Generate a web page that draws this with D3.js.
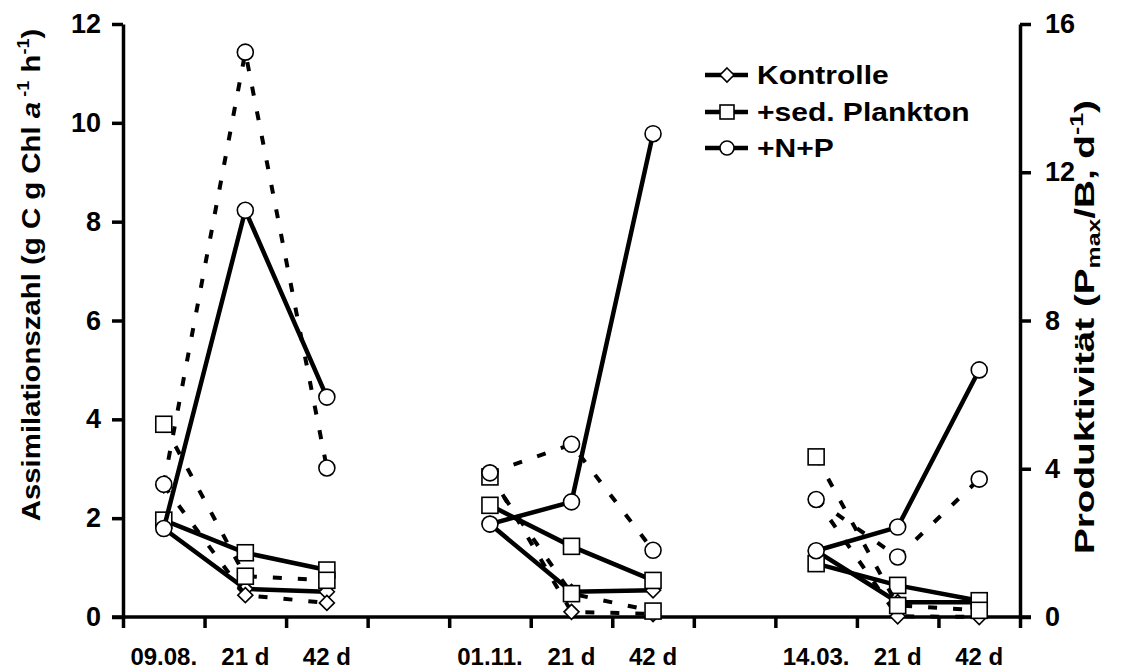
<!DOCTYPE html>
<html><head><meta charset="utf-8">
<script src="https://cdn.jsdelivr.net/npm/d3@7"></script>
<style>
body{margin:0;background:#fff}
text{font-family:Arial,"Liberation Sans",sans-serif;font-weight:bold;fill:#000}
</style>
</head><body><svg id="c" width="1123" height="671"></svg>
<script>
// ---- data ----
const categories = ["09.08.","21 d","42 d","","01.11.","21 d","42 d","","14.03.","21 d","42 d"];
const seriesNames = ["Kontrolle","+sed. Plankton","+N+P"];
const leftTicks = [0,2,4,6,8,10,12];
const rightTicks = [0,4,8,12,16];
// Assimilationszahl (left axis, solid lines)
const assimKontrolle = [1.79,0.57,0.51,null,1.88,0.51,0.54,null,1.34,0.30,0.30];
const assimSed       = [1.96,1.30,0.95,null,2.26,1.43,0.74,null,1.08,0.64,0.33];
const assimNP        = [1.79,8.23,4.45,null,1.88,2.33,9.78,null,1.34,1.82,5.00];
// Produktivität (right axis, dashed lines)
const prodKontrolle = [3.55,0.59,0.38,null,3.89,0.14,0.08,null,3.17,0.02,0.00];
const prodSed       = [5.20,1.10,0.99,null,3.78,0.63,0.16,null,4.32,0.31,0.18];
const prodNP        = [3.58,15.24,4.02,null,3.89,4.66,1.80,null,3.17,1.62,3.72];

const svg = d3.select("#c");
svg.append("rect").attr("width",1123).attr("height",671).attr("fill","#fff");

const x = d3.scaleLinear().domain([0, categories.length]).range([123, 1020]);
const yL = d3.scaleLinear().domain([0, 12]).range([617, 24]);
const yR = d3.scaleLinear().domain([0, 16]).range([617, 24]);

// ---- axes ----
function styleAxis(g, fs){
  g.select(".domain").attr("stroke","#000").attr("stroke-width",3.5);
  g.selectAll(".tick line").attr("stroke","#000").attr("stroke-width",3.5);
  g.selectAll("text").style("font-size",fs+"px").style("font-family","Arial,'Liberation Sans',sans-serif").style("font-weight","bold").attr("fill","#000");
}
const gL = svg.append("g").attr("transform","translate(123,0)")
  .call(d3.axisLeft(yL).tickValues(leftTicks).tickSize(11).tickSizeOuter(0).tickPadding(11));
styleAxis(gL, 27);
const gR = svg.append("g").attr("transform","translate(1020,0)")
  .call(d3.axisRight(yR).tickValues(rightTicks).tickSize(11).tickSizeOuter(0).tickPadding(14));
styleAxis(gR, 27);
const gB = svg.append("g").attr("transform","translate(0,617)")
  .call(d3.axisBottom(x).tickValues(d3.range(categories.length+1)).tickFormat("").tickSize(11).tickSizeOuter(0));
styleAxis(gB, 24);
gB.select(".domain").attr("d", `M${x(0)-11},0H${x(categories.length)+11}`);

// category labels
svg.append("g").selectAll("text").data(categories.map((c,i)=>({c,i})).filter(d=>d.c!==""))
  .join("text").attr("x",d=>x(d.i+0.5)).attr("y",665).attr("text-anchor","middle")
  .style("font-size","24px").text(d=>d.c);

// ---- axis titles ----
const tl = svg.append("text").attr("transform","translate(40,275) rotate(-90) scale(1.13,1)")
  .attr("text-anchor","middle").style("font-size","26px");
tl.append("tspan").text("Assimilationszahl (g C g Chl ");
tl.append("tspan").style("font-style","italic").text("a");
tl.append("tspan").style("font-size","16px").attr("dy",-11).text(" -1");
tl.append("tspan").attr("dy",11).text(" h");
tl.append("tspan").style("font-size","16px").attr("dy",-11).text("-1");
tl.append("tspan").attr("dy",11).text(")");

const tr = svg.append("text").attr("transform","translate(1094,327) rotate(-90) scale(1.38,1)")
  .attr("text-anchor","middle").style("font-size","28px");
tr.append("tspan").text("Produktivität (P");
tr.append("tspan").style("font-size","18px").attr("dy",6).text("max");
tr.append("tspan").attr("dy",-6).text("/B, d");
tr.append("tspan").style("font-size","18px").attr("dy",-11).text("-1");
tr.append("tspan").attr("dy",11).text(")");

// ---- markers ----
function drawMarker(g, type, cx, cy, s){
  if(type==="circle"){
    g.append("circle").attr("cx",cx).attr("cy",cy).attr("r",s).attr("fill","#fff").attr("stroke","#000").attr("stroke-width",1.6);
  } else if(type==="square"){
    g.append("rect").attr("x",cx-s).attr("y",cy-s).attr("width",2*s).attr("height",2*s).attr("fill","#fff").attr("stroke","#000").attr("stroke-width",1.6);
  } else {
    g.append("path").attr("d",`M${cx},${cy-s}L${cx+s},${cy}L${cx},${cy+s}L${cx-s},${cy}Z`).attr("fill","#fff").attr("stroke","#000").attr("stroke-width",1.6);
  }
}
const markerTypes = ["diamond","square","circle"];
const markerSize = {diamond:7.5, square:8, circle:8};

function drawSeries(vals, yScale, type, dashed){
  const g = svg.append("g");
  const line = d3.line().defined(d=>d!==null).x((d,i)=>x(i+0.5)).y(d=>yScale(d));
  g.append("path").datum(vals).attr("d",line).attr("fill","none").attr("stroke","#000")
    .attr("stroke-width", dashed?4:4.5).attr("stroke-dasharray", dashed?"9,16":null)
    .attr("stroke-linejoin","miter");
  vals.forEach((v,i)=>{ if(v!==null) drawMarker(g, type, x(i+0.5), yScale(v), markerSize[type]); });
}
drawSeries(assimKontrolle, yL, "diamond", false);
drawSeries(assimSed, yL, "square", false);
drawSeries(assimNP, yL, "circle", false);
drawSeries(prodKontrolle, yR, "diamond", true);
drawSeries(prodSed, yR, "square", true);
drawSeries(prodNP, yR, "circle", true);

// ---- legend ----
const legendY = [75, 112, 148];
seriesNames.forEach((name,k)=>{
  const g = svg.append("g");
  g.append("line").attr("x1",705).attr("x2",748).attr("y1",legendY[k]).attr("y2",legendY[k])
    .attr("stroke","#000").attr("stroke-width",4.5);
  drawMarker(g, markerTypes[k], 727, legendY[k], 7);
  g.append("text").attr("transform",`translate(757,${legendY[k]+9}) scale(1.2,1)`)
    .style("font-size","25px").text(name);
});
</script></body></html>
